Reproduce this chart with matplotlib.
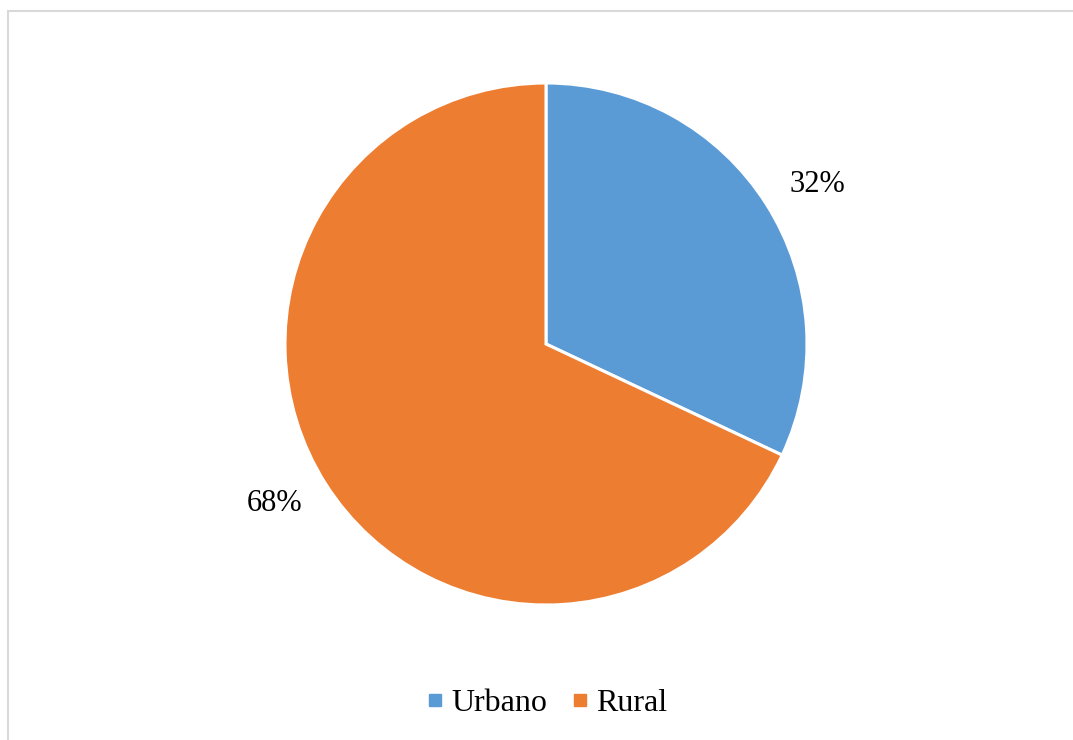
import numpy as np
import matplotlib
matplotlib.use("Agg")
import matplotlib.pyplot as plt
from matplotlib.lines import Line2D
from matplotlib.patches import Rectangle

categories = ["Urbano", "Rural"]
shares = [32, 68]
colors = ["#5B9BD5", "#ED7D31"]

plt.rcParams["font.family"] = ["Liberation Serif", "DejaVu Serif"]

W, H = 1073, 740
fig = plt.figure(figsize=(W / 100, H / 100), dpi=100)

# chart frame (light grey, open to the right and bottom)
fig.patches.append(Rectangle((7.5 / W, -0.1), 1.2, 1 - 10.5 / H + 0.1,
                             transform=fig.transFigure, fill=False,
                             edgecolor="#d9d9d9", linewidth=1.5))

cx, cy, r = 546, 344, 261
ax = fig.add_axes([(cx - r) / W, (H - cy - r) / H, 2 * r / W, 2 * r / H])
wedges, _, pct_texts = ax.pie(
    shares, colors=colors, startangle=90, counterclock=False,
    autopct="%d%%", pctdistance=1.2,
    wedgeprops=dict(edgecolor="white", linewidth=2.2),
    textprops=dict(fontsize=22, color="black"))

# percentage labels sit just outside the rim, nudged slightly clockwise
for w, t in zip(wedges, pct_texts):
    ang = np.deg2rad((w.theta1 + w.theta2) / 2 - 2.0)
    t.set_position((1.205 * np.cos(ang), 1.205 * np.sin(ang)))

ax.set_xlim(-1, 1)
ax.set_ylim(-1, 1)
ax.set_aspect("equal")
ax.axis("off")

handles = [Line2D([], [], marker="s", linestyle="", markersize=8,
                  markerfacecolor=c, markeredgecolor=c) for c in colors]
fig.legend(handles, categories, loc="center", ncol=2,
           bbox_to_anchor=(548 / W, 1 - 703 / H), frameon=False,
           fontsize=23, handletextpad=0.3, columnspacing=0.85,
           handlelength=0.4)

fig.savefig("out.png", dpi=100)
